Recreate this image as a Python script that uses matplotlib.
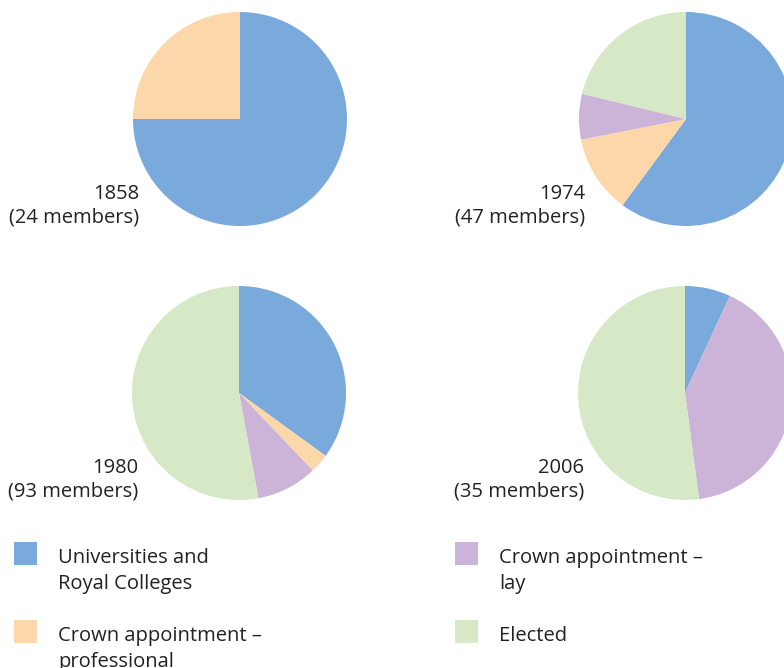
import matplotlib
matplotlib.use("Agg", force=True)
import matplotlib.pyplot as plt
from matplotlib.patches import Rectangle

W, H = 784, 668

categories = ["Universities and\nRoyal Colleges", "Crown appointment –\nprofessional",
              "Crown appointment –\nlay", "Elected"]
colors = ["#7aaadb", "#fcd7aa", "#cbb4d8", "#d7e8c6"]

years = ["1858", "1974", "1980", "2006"]
members = [24, 47, 93, 35]
# shares in percent, order: universities, crown prof, crown lay, elected
share_1858 = [75.0, 25.0, 0.0, 0.0]
share_1974 = [60.1, 11.8, 6.9, 21.2]
share_1980 = [35.0, 2.9, 9.2, 52.9]
share_2006 = [6.9, 0.0, 41.0, 52.1]
shares = [share_1858, share_1974, share_1980, share_2006]

plt.rcParams["font.family"] = ["Open Sans", "DejaVu Sans"]
TXT = "#222222"
FS = 14.5

fig = plt.figure(figsize=(W / 100, H / 100), dpi=100)
fig.patch.set_facecolor("white")

centers = [(240, 119), (686, 119), (239, 393), (685, 393)]
R = 107

def fx(x):
    return x / W

def fy(y):
    return 1 - y / H

for (cx, cy), vals, yr, n in zip(centers, shares, years, members):
    ax = fig.add_axes([fx(cx - R), fy(cy + R), 2 * R / W, 2 * R / H])
    ax.pie(vals, colors=colors, startangle=90, counterclock=False,
           wedgeprops=dict(linewidth=0))
    ax.set_xlim(-1, 1)
    ax.set_ylim(-1, 1)
    ax.axis("off")
    lx = cx - 101
    fig.text(fx(lx), fy(cy + 80), yr, ha="right", va="baseline", fontsize=FS, color=TXT)
    fig.text(fx(lx), fy(cy + 104), f"({n} members)", ha="right", va="baseline",
             fontsize=FS, color=TXT)

# legend, manual two-column layout
leg_pos = [(14, 542), (14, 620), (455, 542), (455, 620)]
for (sx, sy), lab, col in zip(leg_pos, categories, colors):
    fig.add_artist(Rectangle((fx(sx), fy(sy + 23)), 23 / W, 23 / H,
                             transform=fig.transFigure, facecolor=col,
                             edgecolor="none"))
    for i, line in enumerate(lab.split("\n")):
        fig.text(fx(sx + 44), fy(sy + 21 + 25.5 * i), line, ha="left", va="baseline",
                 fontsize=FS, color=TXT)

fig.savefig("out.png", dpi=100, facecolor="white")
